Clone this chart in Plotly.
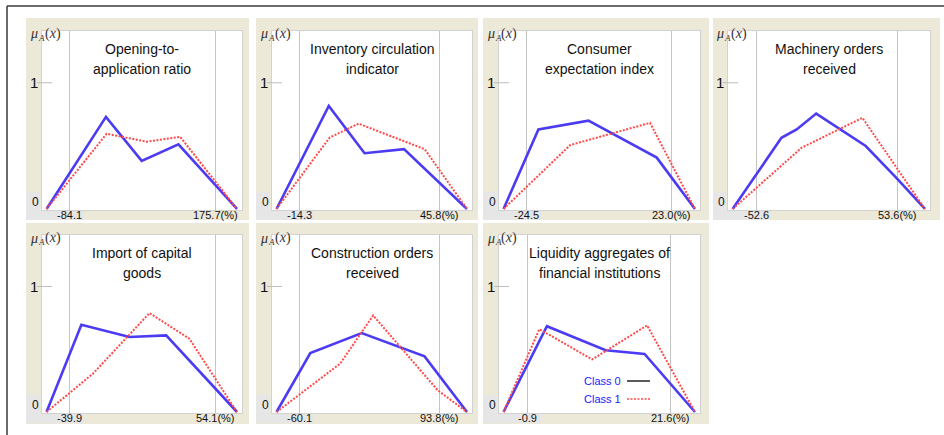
import plotly.graph_objects as go

# ---------------- data ----------------
title_line1 = ["Opening-to-", "Inventory circulation", "Consumer", "Machinery orders",
               "Import of capital", "Construction orders", "Liquidity aggregates of"]
title_line2 = ["application ratio", "indicator", "expectation index", "received",
               "goods", "received", "financial institutions"]
low_ticks = [-84.1, -14.3, -24.5, -52.6, -39.9, -60.1, -0.9]
high_ticks = [175.7, 45.8, 23.0, 53.6, 54.1, 93.8, 21.6]
low_labels = ["-84.1", "-14.3", "-24.5", "-52.6", "-39.9", "-60.1", "-0.9"]
high_labels = ["175.7(%)", "45.8(%)", "23.0(%)", "53.6(%)", "54.1(%)", "93.8(%)", "21.6(%)"]

class0_x = [
    [-125.6, -19.9, 43.7, 109.0, 213.1],
    [-24.4, -1.9, 13.5, 30.5, 57.6],
    [-32.2, -20.7, -4.2, 18.3, 30.9],
    [-70.6, -33.8, -22.3, -7.6, 29.7, 52.6, 74.3],
    [-54.8, -32.4, -1.5, 22.1, 67.6],
    [-85.6, -48.4, 8.2, 77.4, 124.1],
    [-4.6, 2.2, 11.4, 17.5, 25.4],
]
class0_y = [
    [0, 0.73, 0.381, 0.512, 0],
    [0, 0.816, 0.442, 0.474, 0],
    [0, 0.63, 0.70, 0.407, 0],
    [0, 0.564, 0.63, 0.756, 0.499, 0.249, 0],
    [0, 0.695, 0.597, 0.610, 0],
    [0, 0.469, 0.629, 0.443, 0],
    [0, 0.683, 0.492, 0.462, 0],
]
class1_x = [
    [-125.6, -18.7, 52.7, 112.0, 213.1],
    [-24.4, -1.5, 10.9, 39.4, 57.6],
    [-32.2, -10.2, 16.1, 30.9],
    [-70.6, -18.5, 27.2, 74.3],
    [-54.8, -25.0, 11.4, 37.0, 67.6],
    [-85.6, -15.6, 20.8, 92.0, 124.1],
    [-4.6, 1.0, 9.3, 17.9, 25.4],
]
class1_y = [
    [0, 0.596, 0.533, 0.572, 0],
    [0, 0.566, 0.676, 0.474, 0],
    [0, 0.507, 0.682, 0],
    [0, 0.486, 0.722, 0],
    [0, 0.305, 0.788, 0.584, 0],
    [0, 0.385, 0.769, 0.172, 0],
    [0, 0.66, 0.419, 0.69, 0],
]
legend_labels = ["Class 0", "Class 1"]

# ---------------- layout geometry ----------------
W, H = 944, 435
col_beige = [(26, 249), (256, 478), (483, 709), (713, 940)]
row_beige = [(18, 220), (223, 424)]
col_plot = [(42, 242), (272, 472), (499, 700), (728, 930)]
row_plot = [(31, 210), (235, 413)]

BEIGE = "#ECE9D8"
LGRAY = "#E6E6E6"
BLUE = "#4B3BF2"
RED = "#FF4A4A"
SANS = "Liberation Sans, Arial, sans-serif"
SERIF = "Liberation Serif, Times New Roman, DejaVu Serif, serif"


def px(x):
    return x / W


def py(y):
    return 1 - y / H


fig = go.Figure()
shapes = []
annotations = []
layout_axes = {}

for i in range(7):
    r, c = divmod(i, 4)
    n = i + 1
    xa = "x" if n == 1 else f"x{n}"
    ya = "y" if n == 1 else f"y{n}"
    bl, br = col_beige[c]
    bt, bb = row_beige[r]
    pl, pr = col_plot[c]
    pt, pb = row_plot[r]

    # panel background
    shapes.append(dict(type="rect", xref="paper", yref="paper", layer="below",
                       x0=px(bl), x1=px(br), y0=py(bb), y1=py(bt),
                       fillcolor=BEIGE, line=dict(width=0)))
    # white plotting area
    shapes.append(dict(type="rect", xref="paper", yref="paper", layer="below",
                       x0=px(pl), x1=px(pr), y0=py(pb), y1=py(pt),
                       fillcolor="white", line=dict(width=0)))
    # light gray boxes behind the 0 label and low tick label
    shapes.append(dict(type="rect", xref="paper", yref="paper", layer="below",
                       x0=px(bl), x1=px(pl - 2), y0=py(pb + 10), y1=py(pb - 18),
                       fillcolor=LGRAY, line=dict(width=0)))
    shapes.append(dict(type="rect", xref="paper", yref="paper", layer="below",
                       x0=px(pl - 2), x1=px(pl + 42), y0=py(pb + 10), y1=py(pb),
                       fillcolor=LGRAY, line=dict(width=0)))

    allx = class0_x[i] + class1_x[i]
    lo, hi = min(allx), max(allx)
    span = hi - lo
    rng = [lo - span * 4.5 / 190, hi + span * 5.0 / 190]

    layout_axes["xaxis" if n == 1 else f"xaxis{n}"] = dict(
        domain=[px(pl), px(pr)], range=rng, anchor=ya,
        tickvals=[low_ticks[i], high_ticks[i]], showticklabels=False, ticks="",
        showgrid=True, gridcolor="#C4C4C4", gridwidth=1, zeroline=False,
        showline=True, mirror=True, linecolor="#D2D2D2", linewidth=1, fixedrange=True)
    layout_axes["yaxis" if n == 1 else f"yaxis{n}"] = dict(
        domain=[py(pb), py(pt)], range=[-0.008, 1.41], anchor=xa,
        showticklabels=False, showgrid=False, zeroline=False, ticks="",
        showline=True, mirror=True, linecolor="#D2D2D2", linewidth=1, fixedrange=True)

    fig.add_trace(go.Scatter(x=class0_x[i], y=class0_y[i], mode="lines", xaxis=xa, yaxis=ya,
                             line=dict(color=BLUE, width=2.6), showlegend=False, name=legend_labels[0]))
    fig.add_trace(go.Scatter(x=class1_x[i], y=class1_y[i], mode="lines", xaxis=xa, yaxis=ya,
                             line=dict(color=RED, width=2, dash="2px,1.5px"), showlegend=False,
                             name=legend_labels[1]))

    # y tick mark at 1
    shapes.append(dict(type="line", xref=f"{xa} domain", yref=ya, x0=-0.025, x1=0.05, y0=1, y1=1,
                       line=dict(color="#BDBDBD", width=1)))

    # labels
    annotations.append(dict(xref="paper", yref=ya, x=px(pl - 8), y=1, text="1", showarrow=False,
                            xanchor="center", yanchor="middle", font=dict(family=SANS, size=15, color="#111")))
    annotations.append(dict(xref="paper", yref=ya, x=px(pl - 7), y=0, yshift=7, text="0", showarrow=False,
                            xanchor="center", yanchor="middle", font=dict(family=SANS, size=12, color="#111")))
    # membership label  mu_A(x)
    annotations.append(dict(xref="paper", yref="paper", x=px(pl - 13), y=py(pt + 3),
                            text="<i>μ</i>", showarrow=False, xanchor="left", yanchor="middle",
                            borderpad=0, font=dict(family=SERIF, size=14, color="#333")))
    annotations.append(dict(xref="paper", yref="paper", x=px(pl - 5), y=py(pt + 7),
                            text="<i>A</i>", showarrow=False, xanchor="left", yanchor="middle",
                            borderpad=0, font=dict(family=SERIF, size=9, color="#333")))
    annotations.append(dict(xref="paper", yref="paper", x=px(pl + 1.5), y=py(pt + 3),
                            text="(<i>x</i>)", showarrow=False, xanchor="left", yanchor="middle",
                            borderpad=0, font=dict(family=SERIF, size=14, color="#333")))
    annotations.append(dict(xref=xa, yref=ya, x=low_ticks[i], y=0, yshift=2, text=low_labels[i],
                            showarrow=False, xanchor="center", yanchor="top",
                            font=dict(family=SANS, size=11, color="#111")))
    annotations.append(dict(xref=xa, yref=ya, x=high_ticks[i], y=0, yshift=2, text=high_labels[i],
                            showarrow=False, xanchor="center", yanchor="top",
                            font=dict(family=SANS, size=11, color="#111")))
    for k, line_text in enumerate([title_line1[i], title_line2[i]]):
        annotations.append(dict(xref=f"{xa} domain", yref="paper", x=0.5, y=py(pt + 18 + 20 * k),
                                text=line_text, showarrow=False, xanchor="center", yanchor="middle",
                                font=dict(family=SANS, size=14, color="#111")))

# legend (inside the 7th panel)
leg_y = [381, 399]
leg_dash = ["solid", "2px,1.5px"]
leg_col = ["#000000", RED]
for k in range(2):
    annotations.append(dict(xref="paper", yref="paper", x=px(623), y=py(leg_y[k]),
                            text=legend_labels[k], showarrow=False, xanchor="right", yanchor="middle",
                            font=dict(family=SANS, size=11, color="#2020FF")))
    shapes.append(dict(type="line", xref="paper", yref="paper", x0=px(627), x1=px(650),
                       y0=py(leg_y[k]), y1=py(leg_y[k]),
                       line=dict(color=leg_col[k], width=1.3, dash=leg_dash[k])))

# outer frame (left and top)
shapes.append(dict(type="line", xref="paper", yref="paper", x0=px(7), x1=px(7), y0=py(6), y1=0,
                   line=dict(color="#3A3A3A", width=1.5)))
shapes.append(dict(type="line", xref="paper", yref="paper", x0=px(7), x1=1, y0=py(6), y1=py(6),
                   line=dict(color="#3A3A3A", width=1.5)))

fig.update_layout(width=W, height=H, margin=dict(l=0, r=0, t=0, b=0),
                  font=dict(family=SANS, size=12, color="#111"),
                  paper_bgcolor="white", plot_bgcolor="white",
                  shapes=shapes, annotations=annotations, **layout_axes)
fig.write_html("out.html", config={"displayModeBar": False},
               post_script="document.body.style.margin='0';")
